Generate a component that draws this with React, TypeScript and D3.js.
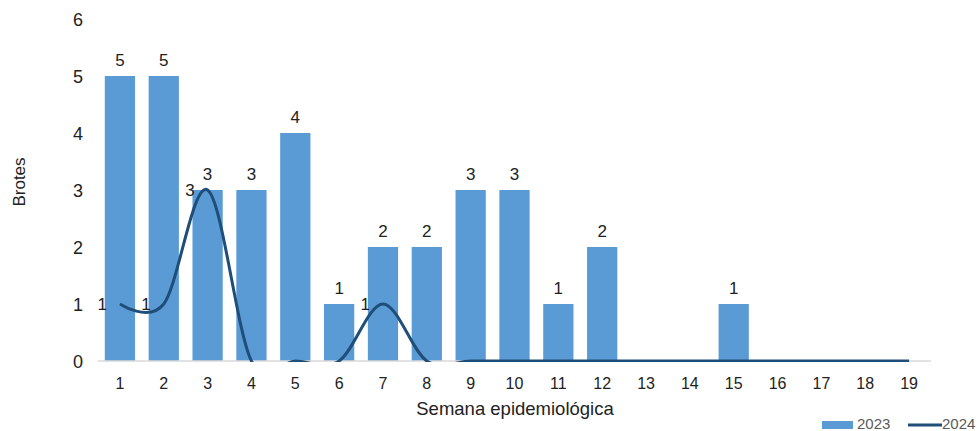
import React from "react";
import * as d3 from "d3";

const weeks = ["1","2","3","4","5","6","7","8","9","10","11","12","13","14","15","16","17","18","19"];
const values2023 = [5,5,3,3,4,1,2,2,3,3,1,2,0,0,1,0,0,0,0];
const values2024 = [1,1,3,0,0,0,1,0,0,0,0,0,0,0,0,0,0,0,0];
const labeled2024 = [0,1,2,6];
const yTicks = [0,1,2,3,4,5,6];

const W = 980, H = 431;
const M = { left: 98, right: 49, top: 19, bottom: 70 };

export default function App() {
  const x = d3.scaleBand<string>().domain(weeks).range([M.left, W - M.right]).paddingInner(0.31).paddingOuter(0.155);
  const y = d3.scaleLinear().domain([0, 6]).range([H - M.bottom, M.top]);
  const cx = (i: number) => (x(weeks[i]) as number) + x.bandwidth() / 2;
  const line = d3.line<number>().x((_, i) => cx(i)).y((d) => y(d)).curve(d3.curveCardinal.tension(0));
  const font = "'Liberation Sans', Arial, sans-serif";
  const y0 = y(0);
  const ink = "#222";
  return (
    <svg width={W} height={H} style={{ position: "absolute", left: 0, top: 0 }} fontFamily={font}>
      <defs>
        <clipPath id="plot">
          <rect x={M.left} y={0} width={W - M.left} height={y0 + 1} />
        </clipPath>
      </defs>
      {values2023.map((v, i) => (
        <rect key={i} x={x(weeks[i])} y={y(v)} width={x.bandwidth()} height={y0 - y(v)} fill="#5b9bd5" />
      ))}
      <line x1={M.left} x2={W - M.right} y1={y0} y2={y0} stroke="#d9d9d9" strokeWidth={1.5} />
      <path d={line(values2024) || ""} fill="none" stroke="#1f4e79" strokeWidth={3} clipPath="url(#plot)" />
      {values2023.map((v, i) => v > 0 ? (
        <text key={i} x={cx(i)} y={y(v) - 10} textAnchor="middle" fontSize={17} fill={ink}>{v}</text>
      ) : null)}
      {labeled2024.map((i) => (
        <text key={i} x={cx(i) - 13} y={y(values2024[i]) + 6} textAnchor="end" fontSize={17} fill={ink}>{values2024[i]}</text>
      ))}
      {yTicks.map((t) => (
        <text key={t} x={83} y={y(t) + 7} textAnchor="end" fontSize={18} fill={ink}>{t}</text>
      ))}
      {weeks.map((w, i) => (
        <text key={w} x={cx(i)} y={389} textAnchor="middle" fontSize={16} fill={ink}>{w}</text>
      ))}
      <text transform={`translate(25,182) rotate(-90)`} textAnchor="middle" fontSize={17} fill={ink}>Brotes</text>
      <text x={515} y={415} textAnchor="middle" fontSize={18.5} fill={ink}>Semana epidemiológica</text>
      <rect x={822} y={421} width={31} height={8} fill="#5b9bd5" />
      <text x={857} y={429} fontSize={15} fill="#595959">2023</text>
      <line x1={908} x2={942} y1={425} y2={425} stroke="#1f4e79" strokeWidth={3} />
      <text x={942} y={429} fontSize={15} fill="#595959">2024</text>
    </svg>
  );
}
